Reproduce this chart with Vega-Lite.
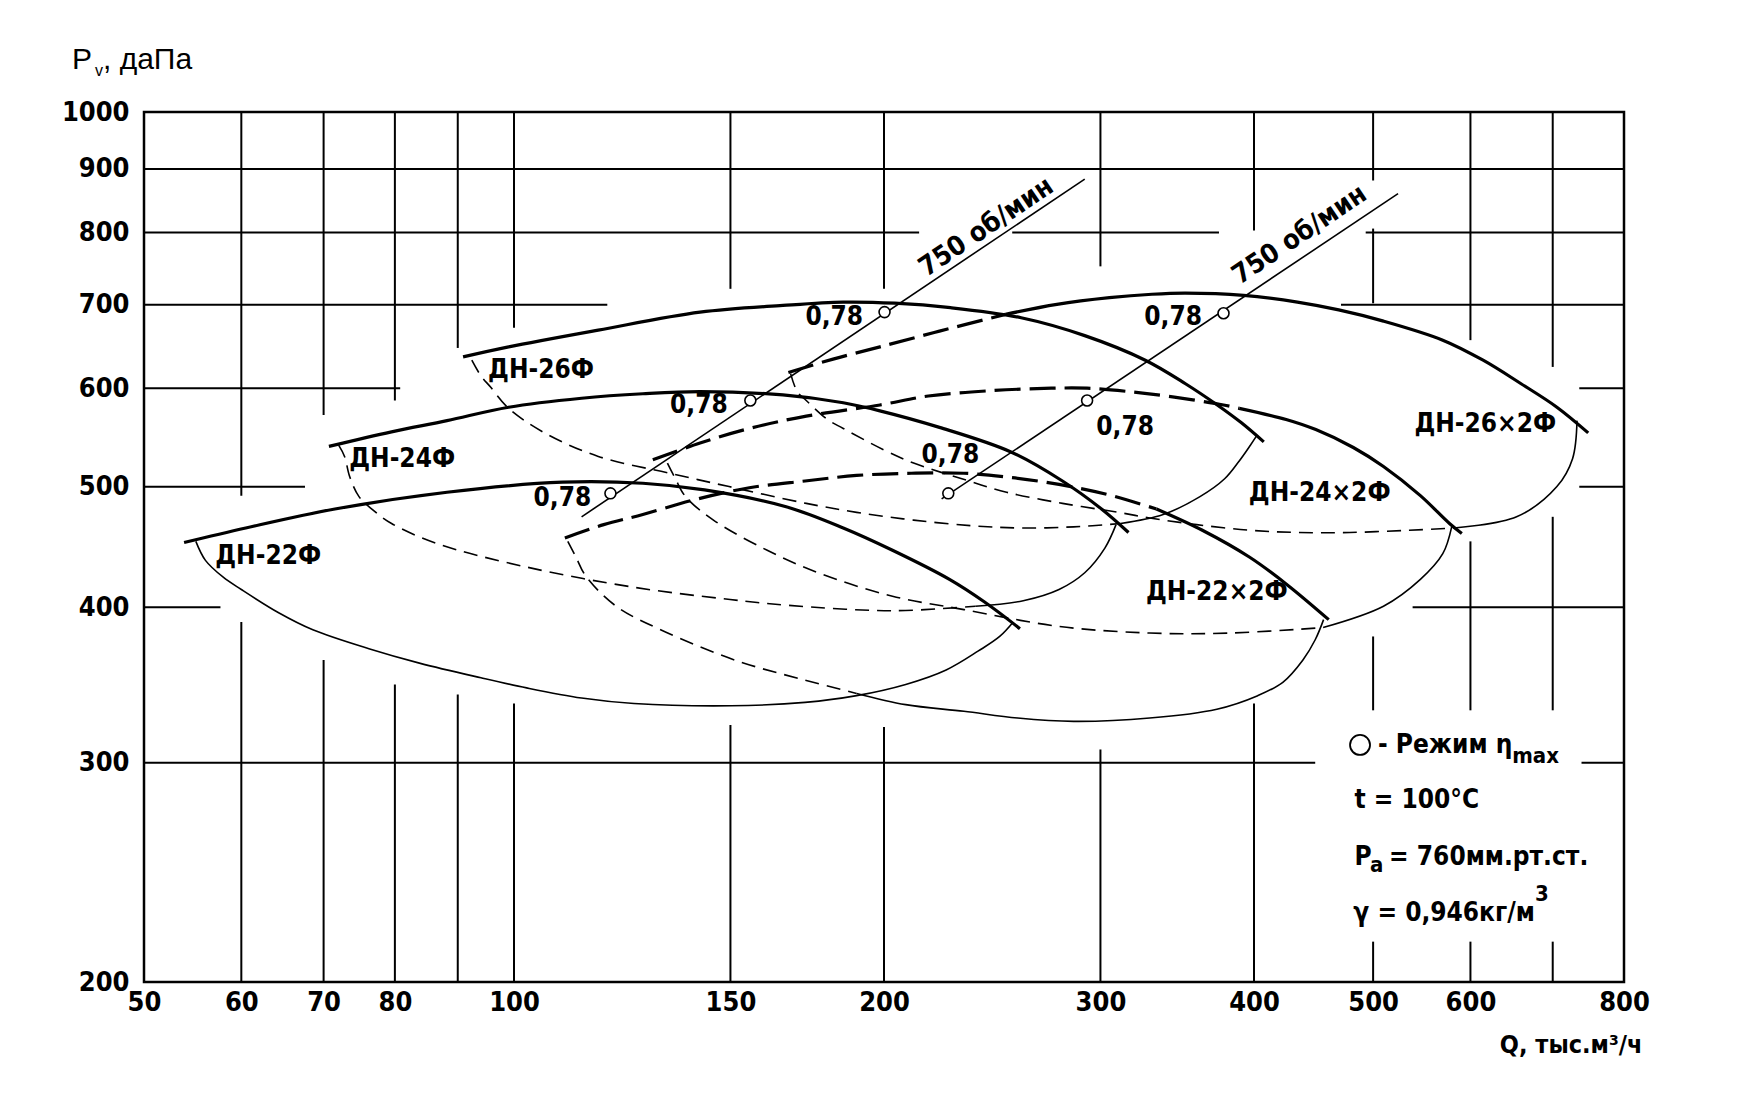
{
"$schema":"https://vega.github.io/schema/vega-lite/v6.json",
"width":1480,"height":870,
"autosize":{"type":"none"},
"padding":{"left":144,"top":112,"right":130,"bottom":125},
"background":"white",
"config":{"view":{"stroke":"black","strokeWidth":2.5},"font":"DejaVu Sans Condensed, Liberation Sans, sans-serif"},
"datasets":{
"grid":[
{"Q":50,"Q2":800,"P":900,"P2":900},
{"Q":50,"Q2":213.6,"P":800,"P2":800},{"Q":254.3,"Q2":374.6,"P":800,"P2":800},{"Q":493.1,"Q2":800,"P":800,"P2":800},
{"Q":50,"Q2":119.1,"P":700,"P2":700},{"Q":470.8,"Q2":800,"P":700,"P2":700},
{"Q":50,"Q2":80.8,"P":600,"P2":600},{"Q":735.7,"Q2":800,"P":600,"P2":600},
{"Q":50,"Q2":67.6,"P":500,"P2":500},{"Q":735.7,"Q2":800,"P":500,"P2":500},
{"Q":50,"Q2":57.7,"P":400,"P2":400},{"Q":538.4,"Q2":800,"P":400,"P2":400},
{"Q":50,"Q2":448.6,"P":300,"P2":300},{"Q":738.8,"Q2":800,"P":300,"P2":300},
{"Q":60,"Q2":60,"P":1000,"P2":491.8},{"Q":60,"Q2":60,"P":389.3,"P2":200},
{"Q":70,"Q2":70,"P":1000,"P2":570.8},{"Q":70,"Q2":70,"P":362.9,"P2":200},
{"Q":80,"Q2":80,"P":1000,"P2":586.4},{"Q":80,"Q2":80,"P":346.8,"P2":200},
{"Q":90,"Q2":90,"P":1000,"P2":646.3},{"Q":90,"Q2":90,"P":340.4,"P2":200},
{"Q":100,"Q2":100,"P":1000,"P2":670.8},{"Q":100,"Q2":100,"P":334.8,"P2":200},
{"Q":150,"Q2":150,"P":1000,"P2":721},{"Q":150,"Q2":150,"P":321.8,"P2":200},
{"Q":200,"Q2":200,"P":1000,"P2":721},{"Q":200,"Q2":200,"P":320.5,"P2":200},
{"Q":300,"Q2":300,"P":1000,"P2":751.6},{"Q":300,"Q2":300,"P":307.5,"P2":200},
{"Q":400,"Q2":400,"P":1000,"P2":803},{"Q":400,"Q2":400,"P":334.8,"P2":200},
{"Q":500,"Q2":500,"P":1000,"P2":881},{"Q":500,"Q2":500,"P":806,"P2":702},{"Q":500,"Q2":500,"P":379,"P2":330.6},{"Q":500,"Q2":500,"P":215.5,"P2":200},
{"Q":600,"Q2":600,"P":1000,"P2":655.7},{"Q":600,"Q2":600,"P":451.9,"P2":330.6},{"Q":600,"Q2":600,"P":215.5,"P2":200},
{"Q":700,"Q2":700,"P":1000,"P2":624},{"Q":700,"Q2":700,"P":472.9,"P2":330.6},{"Q":700,"Q2":700,"P":215.5,"P2":200}
],
"curves":[
{"s":"22 u","k":"upper","i":1,"Q":53.9,"P":450.9},{"s":"22 u","k":"upper","i":2,"Q":60.5,"P":463.2},{"s":"22 u","k":"upper","i":3,"Q":71.5,"P":479.8},{"s":"22 u","k":"upper","i":4,"Q":88.2,"P":494.9},{"s":"22 u","k":"upper","i":5,"Q":109.5,"P":504.2},{"s":"22 u","k":"upper","i":6,"Q":127.3,"P":503.2},{"s":"22 u","k":"upper","i":7,"Q":142.9,"P":497.0},{"s":"22 u","k":"upper","i":8,"Q":166.5,"P":481.8},{"s":"22 u","k":"upper","i":9,"Q":185.3,"P":463.2},{"s":"22 u","k":"upper","i":10,"Q":203.2,"P":444.5},{"s":"22 u","k":"upper","i":11,"Q":226.1,"P":421.2},{"s":"22 u","k":"upper","i":12,"Q":241.3,"P":404.1},{"s":"22 u","k":"upper","i":13,"Q":258.0,"P":384.5},
{"s":"22 l","k":"lower","i":1,"Q":55.1,"P":451.9},{"s":"22 l","k":"lower","i":2,"Q":56.1,"P":436.3},{"s":"22 l","k":"lower","i":3,"Q":58.0,"P":422.9},{"s":"22 l","k":"lower","i":4,"Q":60.0,"P":413.4},{"s":"22 l","k":"lower","i":5,"Q":64.4,"P":395.8},{"s":"22 l","k":"lower","i":6,"Q":68.6,"P":383.7},{"s":"22 l","k":"lower","i":7,"Q":76.2,"P":370.5},{"s":"22 l","k":"lower","i":8,"Q":83.9,"P":360.6},{"s":"22 l","k":"lower","i":9,"Q":94.0,"P":351.1},{"s":"22 l","k":"lower","i":10,"Q":102.4,"P":344.6},{"s":"22 l","k":"lower","i":11,"Q":113.5,"P":338.2},{"s":"22 l","k":"lower","i":12,"Q":125.2,"P":334.8},{"s":"22 l","k":"lower","i":13,"Q":150.2,"P":333.4},{"s":"22 l","k":"lower","i":14,"Q":172.5,"P":335.5},{"s":"22 l","k":"lower","i":15,"Q":190.0,"P":339.7},{"s":"22 l","k":"lower","i":16,"Q":208.3,"P":346.8},{"s":"22 l","k":"lower","i":17,"Q":224.7,"P":356.2},{"s":"22 l","k":"lower","i":18,"Q":238.7,"P":369.0},{"s":"22 l","k":"lower","i":19,"Q":248.4,"P":379.0},{"s":"22 l","k":"lower","i":20,"Q":254.8,"P":389.3},
{"s":"24 u","k":"upper","i":1,"Q":70.7,"P":538.7},{"s":"24 u","k":"upper","i":2,"Q":79.5,"P":553.4},{"s":"24 u","k":"upper","i":3,"Q":88.2,"P":565.0},{"s":"24 u","k":"upper","i":4,"Q":99.0,"P":579.2},{"s":"24 u","k":"upper","i":5,"Q":113.5,"P":588.9},{"s":"24 u","k":"upper","i":6,"Q":127.3,"P":593.8},{"s":"24 u","k":"upper","i":7,"Q":141.7,"P":596.2},{"s":"24 u","k":"upper","i":8,"Q":165.5,"P":592.5},{"s":"24 u","k":"upper","i":9,"Q":185.3,"P":584.0},{"s":"24 u","k":"upper","i":10,"Q":198.1,"P":575.6},{"s":"24 u","k":"upper","i":11,"Q":221.9,"P":558.0},{"s":"24 u","k":"upper","i":12,"Q":253.7,"P":533.2},{"s":"24 u","k":"upper","i":13,"Q":279.4,"P":505.3},{"s":"24 u","k":"upper","i":14,"Q":300.6,"P":479.8},{"s":"24 u","k":"upper","i":15,"Q":316.2,"P":459.4},
{"s":"24 lh","k":"lower hidden","i":1,"Q":72.0,"P":539.9},{"s":"24 lh","k":"lower hidden","i":2,"Q":72.8,"P":528.8},{"s":"24 lh","k":"lower hidden","i":3,"Q":73.5,"P":509.5},{"s":"24 lh","k":"lower hidden","i":4,"Q":74.8,"P":490.9},{"s":"24 lh","k":"lower hidden","i":5,"Q":76.8,"P":478.8},{"s":"24 lh","k":"lower hidden","i":6,"Q":79.5,"P":467.1},{"s":"24 lh","k":"lower hidden","i":7,"Q":86.6,"P":450.0},{"s":"24 lh","k":"lower hidden","i":8,"Q":102.4,"P":430.9},{"s":"24 lh","k":"lower hidden","i":9,"Q":125.2,"P":415.1},{"s":"24 lh","k":"lower hidden","i":10,"Q":149.9,"P":405.8},{"s":"24 lh","k":"lower hidden","i":11,"Q":166.5,"P":401.6},{"s":"24 lh","k":"lower hidden","i":12,"Q":203.2,"P":397.5},{"s":"24 lh","k":"lower hidden","i":13,"Q":237.3,"P":400.8},
{"s":"24 l","k":"lower","i":1,"Q":237.3,"P":400.8},{"s":"24 l","k":"lower","i":2,"Q":259.6,"P":404.9},{"s":"24 l","k":"lower","i":3,"Q":277.6,"P":413.4},{"s":"24 l","k":"lower","i":4,"Q":291.3,"P":426.4},{"s":"24 l","k":"lower","i":5,"Q":302.5,"P":446.3},{"s":"24 l","k":"lower","i":6,"Q":308.9,"P":466.1},
{"s":"26 u","k":"upper","i":1,"Q":90.9,"P":635.7},{"s":"26 u","k":"upper","i":2,"Q":99.0,"P":647.6},{"s":"26 u","k":"upper","i":3,"Q":117.1,"P":668.0},{"s":"26 u","k":"upper","i":4,"Q":141.7,"P":690.5},{"s":"26 u","k":"upper","i":5,"Q":165.5,"P":699.2},{"s":"26 u","k":"upper","i":6,"Q":185.3,"P":703.5},{"s":"26 u","k":"upper","i":7,"Q":204.0,"P":702.1},{"s":"26 u","k":"upper","i":8,"Q":226.5,"P":696.3},{"s":"26 u","k":"upper","i":9,"Q":258.6,"P":683.4},{"s":"26 u","k":"upper","i":10,"Q":291.3,"P":661.2},{"s":"26 u","k":"upper","i":11,"Q":326.3,"P":631.8},{"s":"26 u","k":"upper","i":12,"Q":351.8,"P":604.9},{"s":"26 u","k":"upper","i":13,"Q":373.4,"P":581.6},{"s":"26 u","k":"upper","i":14,"Q":390.7,"P":562.7},{"s":"26 u","k":"upper","i":15,"Q":407.4,"P":543.2},
{"s":"26 lh","k":"lower hidden","i":1,"Q":92.4,"P":631.8},{"s":"26 lh","k":"lower hidden","i":2,"Q":94.0,"P":613.7},{"s":"26 lh","k":"lower hidden","i":3,"Q":95.7,"P":601.2},{"s":"26 lh","k":"lower hidden","i":4,"Q":99.0,"P":578.0},{"s":"26 lh","k":"lower hidden","i":5,"Q":105.9,"P":552.3},{"s":"26 lh","k":"lower hidden","i":6,"Q":117.1,"P":528.8},{"s":"26 lh","k":"lower hidden","i":7,"Q":133.9,"P":512.6},{"s":"26 lh","k":"lower hidden","i":8,"Q":149.6,"P":500.1},{"s":"26 lh","k":"lower hidden","i":9,"Q":172.9,"P":484.8},{"s":"26 lh","k":"lower hidden","i":10,"Q":190.0,"P":476.8},{"s":"26 lh","k":"lower hidden","i":11,"Q":211.4,"P":470.0},{"s":"26 lh","k":"lower hidden","i":12,"Q":236.3,"P":465.1},{"s":"26 lh","k":"lower hidden","i":13,"Q":258.6,"P":463.2},{"s":"26 lh","k":"lower hidden","i":14,"Q":285.3,"P":464.2},{"s":"26 lh","k":"lower hidden","i":15,"Q":311.6,"P":467.1},
{"s":"26 l","k":"lower","i":1,"Q":311.6,"P":467.1},{"s":"26 l","k":"lower","i":2,"Q":337.4,"P":474.9},{"s":"26 l","k":"lower","i":3,"Q":361.5,"P":490.9},{"s":"26 l","k":"lower","i":4,"Q":378.6,"P":507.4},{"s":"26 l","k":"lower","i":5,"Q":389.1,"P":524.4},{"s":"26 l","k":"lower","i":6,"Q":397.3,"P":539.9},{"s":"26 l","k":"lower","i":7,"Q":402.3,"P":550.0},
{"s":"22x2 uh","k":"upper hidden","i":1,"Q":110.0,"P":454.7},{"s":"22x2 uh","k":"upper hidden","i":2,"Q":118.3,"P":466.1},{"s":"22x2 uh","k":"upper hidden","i":3,"Q":127.3,"P":474.9},{"s":"22x2 uh","k":"upper hidden","i":4,"Q":139.9,"P":487.8},{"s":"22x2 uh","k":"upper hidden","i":5,"Q":155.4,"P":499.0},{"s":"22x2 uh","k":"upper hidden","i":6,"Q":172.5,"P":505.3},{"s":"22x2 uh","k":"upper hidden","i":7,"Q":190.0,"P":510.5},{"s":"22x2 uh","k":"upper hidden","i":8,"Q":210.5,"P":512.6},{"s":"22x2 uh","k":"upper hidden","i":9,"Q":232.3,"P":512.6},{"s":"22x2 uh","k":"upper hidden","i":10,"Q":254.3,"P":508.4},{"s":"22x2 uh","k":"upper hidden","i":11,"Q":277.6,"P":502.1},{"s":"22x2 uh","k":"upper hidden","i":12,"Q":303.8,"P":492.9},{"s":"22x2 uh","k":"upper hidden","i":13,"Q":333.2,"P":479.8},
{"s":"22x2 u","k":"upper","i":1,"Q":333.2,"P":479.8},{"s":"22x2 u","k":"upper","i":2,"Q":363.1,"P":461.3},{"s":"22x2 u","k":"upper","i":3,"Q":396.5,"P":439.0},{"s":"22x2 u","k":"upper","i":4,"Q":424.8,"P":417.7},{"s":"22x2 u","k":"upper","i":5,"Q":460.1,"P":391.0},
{"s":"22x2 lh","k":"lower hidden","i":1,"Q":110.6,"P":451.9},{"s":"22x2 lh","k":"lower hidden","i":2,"Q":112.3,"P":439.0},{"s":"22x2 lh","k":"lower hidden","i":3,"Q":114.4,"P":423.8},{"s":"22x2 lh","k":"lower hidden","i":4,"Q":121.1,"P":400.8},{"s":"22x2 lh","k":"lower hidden","i":5,"Q":132.8,"P":382.2},{"s":"22x2 lh","k":"lower hidden","i":6,"Q":152.1,"P":362.1},{"s":"22x2 lh","k":"lower hidden","i":7,"Q":172.5,"P":349.6},{"s":"22x2 lh","k":"lower hidden","i":8,"Q":190.0,"P":341.1},
{"s":"22x2 l","k":"lower","i":1,"Q":190.0,"P":341.1},{"s":"22x2 l","k":"lower","i":2,"Q":208.3,"P":334.1},{"s":"22x2 l","k":"lower","i":3,"Q":232.3,"P":330.0},{"s":"22x2 l","k":"lower","i":4,"Q":256.9,"P":325.9},{"s":"22x2 l","k":"lower","i":5,"Q":285.3,"P":323.9},{"s":"22x2 l","k":"lower","i":6,"Q":329.0,"P":325.9},{"s":"22x2 l","k":"lower","i":7,"Q":373.1,"P":331.3},{"s":"22x2 l","k":"lower","i":8,"Q":402.8,"P":339.7},{"s":"22x2 l","k":"lower","i":9,"Q":422.2,"P":348.2},{"s":"22x2 l","k":"lower","i":10,"Q":438.4,"P":362.9},{"s":"22x2 l","k":"lower","i":11,"Q":448.6,"P":376.7},{"s":"22x2 l","k":"lower","i":12,"Q":455.7,"P":391.0},
{"s":"24x2 uh","k":"upper hidden","i":1,"Q":129.7,"P":525.5},{"s":"24x2 uh","k":"upper hidden","i":2,"Q":141.7,"P":542.1},{"s":"24x2 uh","k":"upper hidden","i":3,"Q":155.4,"P":556.9},{"s":"24x2 uh","k":"upper hidden","i":4,"Q":172.9,"P":569.7},{"s":"24x2 uh","k":"upper hidden","i":5,"Q":198.5,"P":581.6},{"s":"24x2 uh","k":"upper hidden","i":6,"Q":217.3,"P":591.3},{"s":"24x2 uh","k":"upper hidden","i":7,"Q":245.9,"P":597.4},{"s":"24x2 uh","k":"upper hidden","i":8,"Q":273.6,"P":599.9},{"s":"24x2 uh","k":"upper hidden","i":9,"Q":292.6,"P":599.9},{"s":"24x2 uh","k":"upper hidden","i":10,"Q":316.2,"P":596.2},{"s":"24x2 uh","k":"upper hidden","i":11,"Q":344.5,"P":590.1},{"s":"24x2 uh","k":"upper hidden","i":12,"Q":377.8,"P":581.6},{"s":"24x2 uh","k":"upper hidden","i":13,"Q":389.1,"P":578.0},
{"s":"24x2 u","k":"upper","i":1,"Q":389.1,"P":578.0},{"s":"24x2 u","k":"upper","i":2,"Q":424.8,"P":566.2},{"s":"24x2 u","k":"upper","i":3,"Q":449.1,"P":555.7},{"s":"24x2 u","k":"upper","i":4,"Q":481.8,"P":537.6},{"s":"24x2 u","k":"upper","i":5,"Q":509.8,"P":519.0},{"s":"24x2 u","k":"upper","i":6,"Q":546.3,"P":491.8},{"s":"24x2 u","k":"upper","i":7,"Q":576.9,"P":467.1},{"s":"24x2 u","k":"upper","i":8,"Q":590.4,"P":458.5},
{"s":"24x2 lh","k":"lower hidden","i":1,"Q":133.3,"P":522.3},{"s":"24x2 lh","k":"lower hidden","i":2,"Q":135.3,"P":507.4},{"s":"24x2 lh","k":"lower hidden","i":3,"Q":137.9,"P":490.9},{"s":"24x2 lh","k":"lower hidden","i":4,"Q":145.3,"P":470.0},{"s":"24x2 lh","k":"lower hidden","i":5,"Q":160.7,"P":444.5},{"s":"24x2 lh","k":"lower hidden","i":6,"Q":177.7,"P":425.6},{"s":"24x2 lh","k":"lower hidden","i":7,"Q":203.2,"P":408.3},{"s":"24x2 lh","k":"lower hidden","i":8,"Q":232.3,"P":398.3},{"s":"24x2 lh","k":"lower hidden","i":9,"Q":277.6,"P":386.1},{"s":"24x2 lh","k":"lower hidden","i":10,"Q":329.0,"P":381.4},{"s":"24x2 lh","k":"lower hidden","i":11,"Q":382.6,"P":381.4},{"s":"24x2 lh","k":"lower hidden","i":12,"Q":455.3,"P":385.3},
{"s":"24x2 l","k":"lower","i":1,"Q":455.3,"P":385.3},{"s":"24x2 l","k":"lower","i":2,"Q":509.8,"P":400.8},{"s":"24x2 l","k":"lower","i":3,"Q":546.3,"P":421.2},{"s":"24x2 l","k":"lower","i":4,"Q":569.7,"P":441.7},{"s":"24x2 l","k":"lower","i":5,"Q":579.3,"P":464.2},
{"s":"26x2 uh","k":"upper hidden","i":1,"Q":167.2,"P":617.6},{"s":"26x2 uh","k":"upper hidden","i":2,"Q":181.8,"P":633.1},{"s":"26x2 uh","k":"upper hidden","i":3,"Q":198.5,"P":647.6},{"s":"26x2 uh","k":"upper hidden","i":4,"Q":221.9,"P":666.7},{"s":"26x2 uh","k":"upper hidden","i":5,"Q":251.1,"P":687.7},
{"s":"26x2 u","k":"upper","i":1,"Q":251.1,"P":687.7},{"s":"26x2 u","k":"upper","i":2,"Q":276.5,"P":700.6},{"s":"26x2 u","k":"upper","i":3,"Q":305.1,"P":709.3},{"s":"26x2 u","k":"upper","i":4,"Q":330.4,"P":713.8},{"s":"26x2 u","k":"upper","i":5,"Q":351.8,"P":715.3},{"s":"26x2 u","k":"upper","i":6,"Q":392.3,"P":712.3},{"s":"26x2 u","k":"upper","i":7,"Q":433.9,"P":703.5},{"s":"26x2 u","k":"upper","i":8,"Q":468.8,"P":693.4},{"s":"26x2 u","k":"upper","i":9,"Q":509.8,"P":679.2},{"s":"26x2 u","k":"upper","i":10,"Q":569.7,"P":655.7},{"s":"26x2 u","k":"upper","i":11,"Q":614.4,"P":631.8},{"s":"26x2 u","k":"upper","i":12,"Q":659.7,"P":604.9},{"s":"26x2 u","k":"upper","i":13,"Q":705.5,"P":579.2},{"s":"26x2 u","k":"upper","i":14,"Q":748.1,"P":552.3},
{"s":"26x2 lh","k":"lower hidden","i":1,"Q":167.9,"P":616.3},{"s":"26x2 lh","k":"lower hidden","i":2,"Q":170.0,"P":596.2},{"s":"26x2 lh","k":"lower hidden","i":3,"Q":172.9,"P":586.4},{"s":"26x2 lh","k":"lower hidden","i":4,"Q":179.9,"P":566.2},{"s":"26x2 lh","k":"lower hidden","i":5,"Q":185.3,"P":556.9},{"s":"26x2 lh","k":"lower hidden","i":6,"Q":199.8,"P":535.4},{"s":"26x2 lh","k":"lower hidden","i":7,"Q":211.4,"P":522.3},{"s":"26x2 lh","k":"lower hidden","i":8,"Q":231.4,"P":507.4},{"s":"26x2 lh","k":"lower hidden","i":9,"Q":251.6,"P":494.9},{"s":"26x2 lh","k":"lower hidden","i":10,"Q":279.4,"P":484.8},{"s":"26x2 lh","k":"lower hidden","i":11,"Q":310.3,"P":476.8},{"s":"26x2 lh","k":"lower hidden","i":12,"Q":329.0,"P":471.9},{"s":"26x2 lh","k":"lower hidden","i":13,"Q":359.3,"P":466.1},{"s":"26x2 lh","k":"lower hidden","i":14,"Q":396.5,"P":461.3},{"s":"26x2 lh","k":"lower hidden","i":15,"Q":433.9,"P":459.4},{"s":"26x2 lh","k":"lower hidden","i":16,"Q":478.7,"P":459.4},{"s":"26x2 lh","k":"lower hidden","i":17,"Q":535.0,"P":461.3},{"s":"26x2 lh","k":"lower hidden","i":18,"Q":581.8,"P":463.2},
{"s":"26x2 l","k":"lower","i":1,"Q":581.8,"P":463.2},{"s":"26x2 l","k":"lower","i":2,"Q":654.2,"P":472.9},{"s":"26x2 l","k":"lower","i":3,"Q":705.5,"P":500.1},{"s":"26x2 l","k":"lower","i":4,"Q":726.5,"P":526.6},{"s":"26x2 l","k":"lower","i":5,"Q":732.6,"P":565.0},
{"s":"750 a","k":"speed","i":1,"Q":113.5,"P":472.9},{"s":"750 a","k":"speed","i":2,"Q":291.3,"P":883.3},
{"s":"750 b","k":"speed","i":1,"Q":222.8,"P":488.8},{"s":"750 b","k":"speed","i":2,"Q":523.9,"P":859.8}
],
"marks":[
{"g":"opt","Q":119.8,"P":493.9},{"g":"opt","Q":155.7,"P":586.4},{"g":"opt","Q":200.2,"P":690.6},
{"g":"opt","Q":225.6,"P":493.9},{"g":"opt","Q":292.6,"P":586.4},{"g":"opt","Q":377.8,"P":689.1},
{"g":"legend","Q":487.9,"P":310.1}
],
"labels":[
{"g":"label","t":"0,78","Q":109.5,"P":489.8},{"g":"label","t":"0,78","Q":141.4,"P":581.6},{"g":"label","t":"0,78","Q":182.2,"P":684.9},
{"g":"label","t":"0,78","Q":226.5,"P":529.9},{"g":"label","t":"0,78","Q":314.2,"P":558.0},{"g":"label","t":"0,78","Q":343.8,"P":684.9},
{"g":"label","t":"ДН-22Ф","Q":63.1,"P":439.9},{"g":"label","t":"ДН-24Ф","Q":81.1,"P":526.6},{"g":"label","t":"ДН-26Ф","Q":105.2,"P":620.1},
{"g":"label","t":"ДН-22×2Ф","Q":373.1,"P":411.7},{"g":"label","t":"ДН-24×2Ф","Q":452.4,"P":493.9},{"g":"label","t":"ДН-26×2Ф","Q":616.9,"P":561.5},
{"g":"rpm","t":"750 об/мин","Q":242.3,"P":808.1},{"g":"rpm","t":"750 об/мин","Q":435.7,"P":796.5},
{"g":"note","t":"- Режим η","Q":504.5,"P":310.1},{"g":"note","t":"t = 100°C","Q":482.8,"P":280.2},
{"g":"note","t":"P","Q":482.8,"P":252.1},{"g":"note","t":"= 760мм.рт.ст.","Q":515.2,"P":252.1},
{"g":"note","t":"γ = 0,946кг/м","Q":481.8,"P":227.4},
{"g":"sub","t":"max","Q":648.8,"P":303.6},{"g":"sub","t":"a","Q":497.2,"P":248.5},{"g":"sub","t":"3","Q":677.0,"P":235.5},
{"g":"ytitle","t":"P","Q":43.69,"P":1100.9},{"g":"ytitle","t":", даПа","Q":46.3,"P":1100.9},
{"g":"ytitlesub","t":"v","Q":45.61,"P":1078.7}
]
},
"encoding":{
"x":{"field":"Q","type":"quantitative","scale":{"type":"log","domain":[50,800],"nice":false,"zero":false},
"axis":{"values":[50,60,70,80,100,150,200,300,400,500,600,800],"format":"d","grid":false,"domain":false,"ticks":false,"labelPadding":7,"labelFont":"DejaVu Sans Condensed, Liberation Sans, sans-serif","labelFontSize":27,"labelFontWeight":"bold","labelColor":"black","labelOverlap":false,"labelFlush":false,"labelBound":false,
"title":"Q, тыс.м³/ч","titleFont":"DejaVu Sans Condensed, Liberation Sans, sans-serif","titleFontSize":25,"titleFontWeight":"bold","titleColor":"black","titleX":1498,"titleY":62,"titleAlign":"right","titleBaseline":"middle","titleAngle":0}},
"y":{"field":"P","type":"quantitative","scale":{"type":"log","domain":[200,1000],"nice":false,"zero":false},
"axis":{"values":[200,300,400,500,600,700,800,900,1000],"format":"d","grid":false,"domain":false,"ticks":false,"labelPadding":15,"labelFont":"DejaVu Sans Condensed, Liberation Sans, sans-serif","labelFontSize":27,"labelFontWeight":"bold","labelColor":"black","labelOverlap":false,"labelFlush":false,"labelBound":false,"title":null}}
},
"layer":[
{"data":{"name":"grid"},"mark":{"type":"rule","stroke":"black","strokeWidth":2},"encoding":{"x2":{"field":"Q2"},"y2":{"field":"P2"}}},
{"data":{"name":"curves"},"transform":[{"filter":{"field":"k","oneOf":["lower","speed"]}}],"mark":{"type":"line","interpolate":"catmull-rom","stroke":"black","strokeWidth":1.6},"encoding":{"detail":{"field":"s"},"order":{"field":"i","type":"quantitative"}}},
{"data":{"name":"curves"},"transform":[{"filter":{"field":"k","equal":"lower hidden"}}],"mark":{"type":"line","interpolate":"catmull-rom","stroke":"black","strokeWidth":1.6,"strokeDash":[14,8]},"encoding":{"detail":{"field":"s"},"order":{"field":"i","type":"quantitative"}}},
{"data":{"name":"curves"},"transform":[{"filter":{"field":"k","equal":"upper hidden"}}],"mark":{"type":"line","interpolate":"catmull-rom","stroke":"black","strokeWidth":3.2,"strokeDash":[26,9]},"encoding":{"detail":{"field":"s"},"order":{"field":"i","type":"quantitative"}}},
{"data":{"name":"curves"},"transform":[{"filter":{"field":"k","equal":"upper"}}],"mark":{"type":"line","interpolate":"catmull-rom","stroke":"black","strokeWidth":3.2},"encoding":{"detail":{"field":"s"},"order":{"field":"i","type":"quantitative"}}},
{"data":{"name":"marks"},"transform":[{"filter":{"field":"g","equal":"opt"}}],"mark":{"type":"point","shape":"circle","filled":true,"fill":"white","stroke":"black","strokeWidth":1.6,"size":120,"opacity":1}},
{"data":{"name":"marks"},"transform":[{"filter":{"field":"g","equal":"legend"}}],"mark":{"type":"point","shape":"circle","filled":true,"fill":"white","stroke":"black","strokeWidth":1.8,"size":400,"opacity":1}},
{"data":{"name":"labels"},"transform":[{"filter":{"field":"g","equal":"label"}}],"mark":{"type":"text","fontWeight":"bold","fontSize":26,"align":"center","baseline":"middle","color":"black"},"encoding":{"text":{"field":"t"}}},
{"data":{"name":"labels"},"transform":[{"filter":{"field":"g","equal":"rpm"}}],"mark":{"type":"text","fontWeight":"bold","fontSize":27,"align":"center","baseline":"middle","angle":326,"color":"black"},"encoding":{"text":{"field":"t"}}},
{"data":{"name":"labels"},"transform":[{"filter":{"field":"g","equal":"note"}}],"mark":{"type":"text","fontWeight":"bold","fontSize":26,"align":"left","baseline":"middle","color":"black"},"encoding":{"text":{"field":"t"}}},
{"data":{"name":"labels"},"transform":[{"filter":{"field":"g","equal":"sub"}}],"mark":{"type":"text","fontWeight":"bold","fontSize":22,"align":"left","baseline":"middle","color":"black"},"encoding":{"text":{"field":"t"}}},
{"data":{"name":"labels"},"transform":[{"filter":{"field":"g","equal":"ytitle"}}],"mark":{"type":"text","font":"Liberation Sans","fontWeight":"normal","fontSize":30,"align":"left","baseline":"middle","color":"black"},"encoding":{"text":{"field":"t"}}},
{"data":{"name":"labels"},"transform":[{"filter":{"field":"g","equal":"ytitlesub"}}],"mark":{"type":"text","font":"Liberation Sans","fontWeight":"normal","fontSize":16,"align":"left","baseline":"middle","color":"black"},"encoding":{"text":{"field":"t"}}}
]
}
